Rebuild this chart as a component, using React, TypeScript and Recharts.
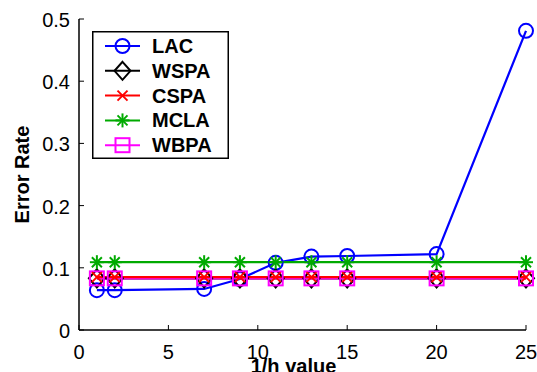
import { LineChart, Line, XAxis, YAxis, Legend } from "recharts";

const hValues = [1, 2, 7, 9, 11, 13, 15, 20, 25];
const lacRates = [0.064, 0.064, 0.066, 0.082, 0.108, 0.118, 0.119, 0.122, 0.481];
const wspaRates = [0.083, 0.083, 0.083, 0.083, 0.083, 0.083, 0.083, 0.083, 0.083];
const cspaRates = [0.085, 0.085, 0.085, 0.085, 0.085, 0.085, 0.085, 0.085, 0.085];
const mclaRates = [0.109, 0.109, 0.109, 0.109, 0.109, 0.109, 0.109, 0.109, 0.109];
const wbpaRates = [0.083, 0.083, 0.083, 0.083, 0.083, 0.083, 0.083, 0.083, 0.083];

const xTicks = [0, 5, 10, 15, 20, 25];
const yTicks = [0, 0.1, 0.2, 0.3, 0.4, 0.5];

const data = hValues.map((h, i) => ({
  h,
  LAC: lacRates[i],
  WSPA: wspaRates[i],
  CSPA: cspaRates[i],
  MCLA: mclaRates[i],
  WBPA: wbpaRates[i],
}));

const FONT = "'Liberation Sans', Arial, Helvetica, sans-serif";

type Shape = "circle" | "diamond" | "x" | "asterisk" | "square";

// legend order
const series: { key: string; color: string; shape: Shape }[] = [
  { key: "LAC", color: "#0000ff", shape: "circle" },
  { key: "WSPA", color: "#000000", shape: "diamond" },
  { key: "CSPA", color: "#ff0000", shape: "x" },
  { key: "MCLA", color: "#00aa00", shape: "asterisk" },
  { key: "WBPA", color: "#ff00ff", shape: "square" },
];

// drawing order (later ones end up on top)
const drawOrder = ["LAC", "WSPA", "WBPA", "CSPA", "MCLA"];

const Marker = ({ shape, cx, cy, color }: { shape: Shape; cx: number; cy: number; color: string }) => {
  const common = { stroke: color, strokeWidth: 2, fill: "none" };
  switch (shape) {
    case "circle":
      return <circle cx={cx} cy={cy} r={7} {...common} />;
    case "diamond":
      return (
        <polygon
          points={`${cx},${cy - 9} ${cx + 8},${cy} ${cx},${cy + 9} ${cx - 8},${cy}`}
          {...common}
        />
      );
    case "x":
      return (
        <g {...common}>
          <line x1={cx - 5} y1={cy - 5} x2={cx + 5} y2={cy + 5} />
          <line x1={cx - 5} y1={cy + 5} x2={cx + 5} y2={cy - 5} />
        </g>
      );
    case "asterisk":
      return (
        <g {...common}>
          <line x1={cx} y1={cy - 7} x2={cx} y2={cy + 7} />
          <line x1={cx - 7} y1={cy} x2={cx + 7} y2={cy} />
          <line x1={cx - 5} y1={cy - 5} x2={cx + 5} y2={cy + 5} />
          <line x1={cx - 5} y1={cy + 5} x2={cx + 5} y2={cy - 5} />
        </g>
      );
    case "square":
      return <rect x={cx - 7} y={cy - 7} width={14} height={14} {...common} />;
  }
};

const XTick = (props: any) => {
  const { x, y, payload } = props;
  return (
    <g>
      <line x1={x} y1={y} x2={x} y2={y - 5} stroke="#000" />
      <text x={x} y={y + 29} textAnchor="middle" fontSize={20} fontFamily={FONT} fill="#000">
        {payload.value}
      </text>
    </g>
  );
};

const YTick = (props: any) => {
  const { x, y, payload } = props;
  return (
    <g>
      <line x1={x} y1={y} x2={x + 5} y2={y} stroke="#000" />
      <text x={x - 9} y={y + 8} textAnchor="end" fontSize={20} fontFamily={FONT} fill="#000">
        {payload.value}
      </text>
    </g>
  );
};

const LegendBox = () => (
  <svg width={137} height={128} style={{ display: "block" }}>
    <rect x={0.75} y={0.75} width={135.5} height={126.5} fill="#fff" stroke="#000" strokeWidth={1.5} />
    {series.map((s, i) => {
      const cy = 15 + i * 24.8;
      return (
        <g key={s.key}>
          <line x1={13} y1={cy} x2={48} y2={cy} stroke={s.color} strokeWidth={2} />
          <Marker shape={s.shape} cx={30.5} cy={cy} color={s.color} />
          <text x={60} y={cy + 7} fontSize={20} fontWeight="bold" fontFamily={FONT} fill="#000">
            {s.key}
          </text>
        </g>
      );
    })}
  </svg>
);

export default function App() {
  return (
    <div style={{ position: "absolute", left: 0, top: 0, background: "#fff" }}>
      <LineChart width={537} height={372} data={data} margin={{ top: 19, right: 11, left: 0, bottom: 0 }}>
        <XAxis
          dataKey="h"
          type="number"
          domain={[0, 25]}
          ticks={xTicks}
          height={42}
          tickSize={0}
          tickMargin={0}
          tickLine={false}
          axisLine={{ stroke: "#000", strokeWidth: 1.5 }}
          tick={<XTick />}
          interval={0}
          label={(p: any) => {
            const vb = p.viewBox;
            return (
              <text
                x={vb.x + vb.width / 2 - 9}
                y={373}
                textAnchor="middle"
                fontSize={20}
                fontWeight="bold"
                fontFamily={FONT}
                fill="#000"
              >
                1/h value
              </text>
            );
          }}
        />
        <XAxis
          xAxisId="top"
          orientation="top"
          dataKey="h"
          type="number"
          domain={[0, 25]}
          height={0}
          tick={false}
          tickLine={false}
          axisLine={{ stroke: "#000", strokeWidth: 1.5 }}
        />
        <YAxis
          type="number"
          domain={[0, 0.5]}
          ticks={yTicks}
          width={79}
          tickSize={0}
          tickMargin={0}
          tickLine={false}
          axisLine={{ stroke: "#000", strokeWidth: 1.5 }}
          tick={<YTick />}
          interval={0}
          label={(p: any) => {
            const vb = p.viewBox;
            const cy = vb.y + vb.height / 2;
            return (
              <text
                x={29}
                y={cy}
                transform={`rotate(-90, 29, ${cy})`}
                textAnchor="middle"
                fontSize={20}
                fontWeight="bold"
                fontFamily={FONT}
                fill="#000"
              >
                Error Rate
              </text>
            );
          }}
        />
        <YAxis
          yAxisId="right"
          orientation="right"
          type="number"
          domain={[0, 0.5]}
          width={0}
          tick={false}
          tickLine={false}
          axisLine={{ stroke: "#000", strokeWidth: 1.5 }}
        />
        {drawOrder.map((k) => {
          const s = series.find((d) => d.key === k)!;
          return (
            <Line
              key={k}
              dataKey={k}
              name={k}
              type="linear"
              stroke={s.color}
              strokeWidth={2.2}
              isAnimationActive={false}
              activeDot={false}
              dot={(p: any) => (
                <Marker key={`${k}-${p.index}`} shape={s.shape} cx={p.cx} cy={p.cy} color={s.color} />
              )}
            />
          );
        })}
        <Legend
          layout="vertical"
          align="center"
          verticalAlign="middle"
          content={() => <LegendBox />}
          wrapperStyle={{ position: "absolute", left: 92, top: 31, width: 137, height: 128 }}
        />
      </LineChart>
    </div>
  );
}
